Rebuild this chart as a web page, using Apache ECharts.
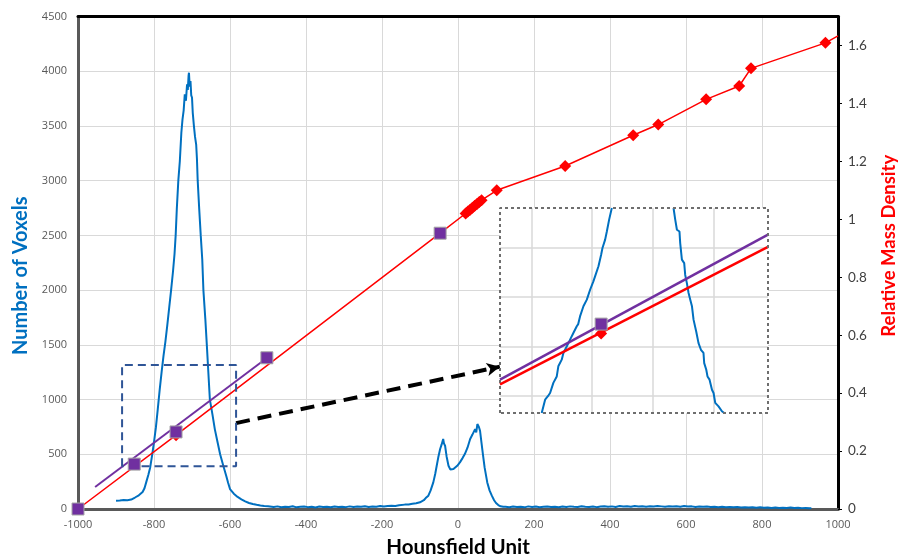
<!DOCTYPE html>
<html><head><meta charset="utf-8">
<script src="https://cdn.jsdelivr.net/npm/echarts@6/dist/echarts.min.js"></script>
<style>html,body{margin:0;padding:0;background:#fff}#c{width:909px;height:560px}</style>
</head><body><div id="c"></div>
<script>
// ---------- DATA ----------
// Histogram of voxel HU values (Number of Voxels)
const histHU = [
 -900,-895,-890,-885,-880,-875,-870,-865,-860,-855,-850,-845,-840,-835,-830,-825,-820,-815,-810,-805,
 -800,-795,-790,-785,-780,-775,-770,-765,-760,-755,-750,-746,-743,-740,-736,-732,-728,-725,-722,-719,
 -716,-713,-711,-709,-708,-706,-704,-702,-700,-698,-695,-692,-689,-687,-685,-681,-677,-673,-670,-665,
 -661,-657,-653,-646,-640,-633,-626,-618,-610,-605,-600,-590,-580,-570,-560,-550,-540,-530,-520,-510,
 -500,-495,-485,-475,-465,-455,-445,-435,-425,-415,-405,-395,-385,-375,-365,-355,-345,-335,-325,-315,
 -305,-295,-285,-275,-265,-255,-245,-235,-225,-215,-205,-195,-185,-175,-165,-155,-150,-140,-130,-120,
 -110,-100,-90,-85,-78,-72,-65,-60,-56,-52,-47,-43,-39,-37,-34,-30,-25,-20,-16,-12,
 -8,-2,5,12,18,25,32,38,45,48,51,55,58,62,66,70,77,83,89,95,
 100,106,112,119,125,135,145,155,165,175,185,195,205,215,225,235,245,255,265,275,
 285,295,305,315,325,335,345,355,365,375,385,395,405,415,425,435,445,455,465,475,
 485,495,505,515,525,535,545,555,565,575,585,595,605,615,625,635,645,655,665,675,
 685,695,705,715,725,735,745,755,765,775,785,795,805,815,825,835,845,855,865,875,
 885,895,905,915,925,930
];
const histCount = [
 75,85,78,90,82,88,80,92,86,100,105,118,125,140,155,190,250,310,380,490,
 610,745,915,1090,1250,1400,1530,1680,1840,2000,2170,2330,2500,2740,3000,3180,3440,3560,3640,3790,
 3730,3880,3830,3960,3986,3860,3910,3780,3760,3620,3500,3400,3330,3200,3000,2740,2500,2280,2000,1740,
 1500,1250,1000,860,730,615,500,400,304,240,182,140,110,88,70,55,45,38,32,27,
 25,22,18,24,16,21,19,25,15,20,23,17,21,14,22,18,20,16,23,19,
 21,17,24,18,22,20,26,19,23,21,28,22,27,30,28,34,35,40,42,48,
 52,61,80,100,122,170,243,320,395,470,548,590,640,600,578,480,395,360,350,365,
 380,395,426,465,502,560,639,680,730,700,776,750,715,600,487,380,243,170,122,80,
 55,36,25,21,20,16,22,18,21,15,24,19,22,17,20,23,18,21,16,22,
 19,24,20,18,25,21,19,23,17,22,26,20,24,19,27,22,25,20,28,23,
 26,21,25,22,27,24,21,26,23,25,20,27,22,24,19,23,20,22,18,21,
 17,20,16,19,15,18,14,17,13,16,12,15,11,14,10,13,9,12,10,13,
 9,11,8,10,7,8
];

// Relative mass density calibration (red diamonds), right axis
const densityHU    = [-1000, -742, -47, 20, 26, 32, 38, 44, 50, 56, 62, 102, 282, 461, 527, 653, 740, 771, 967, 1000];
const densityValue = [0, 0.255, 0.952, 1.02, 1.027, 1.033, 1.04, 1.047, 1.053, 1.06, 1.066, 1.10, 1.184, 1.290, 1.327, 1.414, 1.460, 1.521, 1.609, 1.633];

// Lung calibration points (purple squares), right axis
const lungHU    = [-1000, -852, -742, -503, -47];
const lungValue = [0, 0.155, 0.266, 0.522, 0.952];

// Linear fit through lung points (purple line), right axis
const fitHU    = [-955, -503];
const fitValue = [0.076, 0.521];

// Axis ticks
const huTicks = {min: -1000, max: 1000, step: 200};
const voxelTicks = {min: 0, max: 4500, step: 500};
const densityTicks = {min: 0, max: 1.7, step: 0.2};

// Zoom region (dashed box) in HU / voxels and the arrow pointing to the inset
const zoomHU = [-884, -584];
const zoomCount = [391, 1316];
const arrowHU = [-584, 110];
const arrowCount = [785, 1300];

// Inset (magnified view) — values read in the inset's own HU / voxel scale
const insetHURange = [-826, -605];
const insetCountRange = [330, 1160];
const insetGridHU = [-800, -750, -700, -650];
const insetGridCount = [400, 600, 800, 1000];
const insetRiseHU    = [-791.6,-788.8,-786.5,-784.7,-782,-779.2,-777.9,-775.1,-773.7,-772.6,-770.9,-768.2,-765.5,-762.7,-761.5,-760,-757.2,-754.4,-751.7,-749,-747.6,-744.8,-742.6,-741.5,-739.3,-737.9,-736,-733.8];
const insetRiseCount = [330,384,398,411,452,478,519,546,573,566,600,627,654,681,690,721,762,789,829,863,883,924,971,998,1032,1065,1113,1160];
const insetFallHU    = [-682.9,-681.5,-680.1,-678,-677.4,-676,-674.1,-673.3,-671.9,-670.5,-669.1,-667.7,-666.4,-664.2,-662.3,-660.3,-658.2,-657.6,-655.9,-654.9,-653.2,-651.2,-649.9,-648.5,-645.8,-643,-641.1];
const insetFallCount = [1160,1113,1072,1065,1018,951,937,890,856,816,789,762,708,660,613,586,573,532,505,478,465,424,411,371,357,337,330];
const insetFitHU = [-826, -605];
const insetFitCount = [465, 1052];
const insetDensityHU = [-826, -605];
const insetDensityCount = [446, 1003];
const insetLungHU = [-742.6];
const insetLungCount = [690];
const insetDiamondHU = [-742.6];
const insetDiamondCount = [652];

// ---------- CHART ----------
const pairs = (xs, ys) => xs.map((x, i) => [x, ys[i]]);
const blue = '#0070C0', red = '#FF0000', purple = '#7030A0';
const gridColor = '#D9D9D9', axisGrey = '#595959';
const tickFont = 'Open Sans';
const titleFont = 'Lato';
const plain = v => String(v);

const densityData = pairs(densityHU, densityValue).map((p, i) =>
  i === densityHU.length - 1 ? {value: p, symbol: 'none'} : p);

const zoomPoly = [[zoomHU[0], zoomCount[0]], [zoomHU[0], zoomCount[1]], [zoomHU[1], zoomCount[1]],
                  [zoomHU[1], zoomCount[0]], [zoomHU[0], zoomCount[0]]];
const insetPoly = [[insetHURange[0], insetCountRange[0]], [insetHURange[0], insetCountRange[1]],
                   [insetHURange[1], insetCountRange[1]], [insetHURange[1], insetCountRange[0]],
                   [insetHURange[0], insetCountRange[0]]];

const chart = echarts.init(document.getElementById('c'));
chart.setOption({
  animation: false,
  backgroundColor: '#fff',
  grid: [
    {left: 78, right: 71, top: 16.5, bottom: 51, containLabel: false, outerBoundsMode: 'none'},
    {left: 500, top: 208, width: 268, height: 205, containLabel: false, outerBoundsMode: 'none'}
  ],
  xAxis: [
    {gridIndex: 0, type: 'value', min: huTicks.min, max: huTicks.max, interval: huTicks.step,
     name: 'Hounsfield Unit', nameLocation: 'middle', nameGap: 28,
     nameTextStyle: {color: '#000', fontWeight: 'bold', fontSize: 20.5, fontFamily: titleFont},
     axisLine: {show: true, onZero: false, lineStyle: {color: axisGrey, width: 3}},
     axisTick: {show: false},
     axisLabel: {color: axisGrey, fontSize: 11, margin: 10, fontFamily: tickFont, formatter: plain},
     splitLine: {show: true, lineStyle: {color: gridColor, width: 1}}},
    {gridIndex: 0, type: 'value', position: 'top', min: huTicks.min, max: huTicks.max,
     axisLine: {show: true, onZero: false, lineStyle: {color: '#000', width: 3}},
     axisTick: {show: false}, axisLabel: {show: false}, splitLine: {show: false}},
    {gridIndex: 1, type: 'value', min: insetHURange[0], max: insetHURange[1], show: false}
  ],
  yAxis: [
    {gridIndex: 0, type: 'value', position: 'left', min: voxelTicks.min, max: voxelTicks.max, interval: voxelTicks.step,
     name: 'Number of Voxels', nameLocation: 'middle', nameRotate: 90, nameGap: 46,
     nameTextStyle: {color: blue, fontWeight: 'bold', fontSize: 20, fontFamily: titleFont, padding: [0, 26, 0, 0]},
     axisLine: {show: true, onZero: false, lineStyle: {color: axisGrey, width: 3}},
     axisTick: {show: false},
     axisLabel: {color: axisGrey, fontSize: 11, margin: 11, fontFamily: tickFont, formatter: plain},
     splitLine: {show: true, lineStyle: {color: gridColor, width: 1}}},
    {gridIndex: 0, type: 'value', position: 'right', min: densityTicks.min, max: densityTicks.max, interval: densityTicks.step,
     name: 'Relative Mass Density', nameLocation: 'middle', nameRotate: 90, nameGap: 42,
     nameTextStyle: {color: red, fontWeight: 'bold', fontSize: 18.5, fontFamily: titleFont, padding: [0, 0, 0, 34]},
     axisLine: {show: true, onZero: false, lineStyle: {color: '#000', width: 3}},
     axisTick: {show: true, length: 4, lineStyle: {color: '#000', width: 1}},
     axisLabel: {color: '#404040', fontSize: 13.5, margin: 10, fontFamily: titleFont, showMaxLabel: false},
     splitLine: {show: false}},
    {gridIndex: 1, type: 'value', min: insetCountRange[0], max: insetCountRange[1], show: false}
  ],
  series: [
    {name: 'Histogram', type: 'line', xAxisIndex: 0, yAxisIndex: 0, data: pairs(histHU, histCount),
     symbol: 'none', lineStyle: {color: blue, width: 2}, z: 2},
    {name: 'Density', type: 'line', xAxisIndex: 0, yAxisIndex: 1, data: densityData,
     symbol: 'diamond', symbolSize: 12, itemStyle: {color: red}, lineStyle: {color: red, width: 1.5}, z: 3},
    {name: 'Lung fit', type: 'line', xAxisIndex: 0, yAxisIndex: 1, data: pairs(fitHU, fitValue),
     symbol: 'none', lineStyle: {color: purple, width: 2}, z: 3},
    {name: 'Lung', type: 'scatter', xAxisIndex: 0, yAxisIndex: 1, data: pairs(lungHU, lungValue),
     symbol: 'rect', symbolSize: 12, itemStyle: {color: purple, borderColor: '#A6A6A6', borderWidth: 1, opacity: 1}, z: 4},
    {name: 'Zoom box', type: 'line', xAxisIndex: 0, yAxisIndex: 0, data: zoomPoly, symbol: 'none', clip: false,
     lineStyle: {color: '#2F5597', width: 2, type: [8, 5]}, z: 4, silent: true,
     markLine: {silent: true, z: 4, symbol: ['none', 'arrow'], symbolSize: [10, 13], label: {show: false},
       lineStyle: {color: '#000', width: 4, type: [14, 8]},
       data: [[{coord: [arrowHU[0], arrowCount[0]]}, {coord: [arrowHU[1], arrowCount[1]]}]]}},
    // inset
    {name: 'Inset frame', type: 'line', xAxisIndex: 2, yAxisIndex: 2, data: insetPoly, symbol: 'none', clip: false,
     lineStyle: {color: '#6E6E6E', width: 2, type: [3, 3]}, z: 6, silent: true,
     markArea: {silent: true, z: 1, itemStyle: {color: '#fff'},
       data: [[{coord: [insetHURange[0], insetCountRange[0]]}, {coord: [insetHURange[1], insetCountRange[1]]}]]},
     markLine: {silent: true, z: 2, symbol: ['none', 'none'], label: {show: false},
       lineStyle: {color: gridColor, width: 1.5, type: 'solid'},
       data: insetGridHU.map(v => ({xAxis: v})).concat(insetGridCount.map(v => ({yAxis: v})))}},
    {name: 'Inset rise', type: 'line', xAxisIndex: 2, yAxisIndex: 2, data: pairs(insetRiseHU, insetRiseCount),
     symbol: 'none', lineStyle: {color: blue, width: 2}, z: 5},
    {name: 'Inset fall', type: 'line', xAxisIndex: 2, yAxisIndex: 2, data: pairs(insetFallHU, insetFallCount),
     symbol: 'none', lineStyle: {color: blue, width: 2}, z: 5},
    {name: 'Inset density', type: 'line', xAxisIndex: 2, yAxisIndex: 2, data: pairs(insetDensityHU, insetDensityCount),
     symbol: 'none', lineStyle: {color: red, width: 2.5}, z: 5},
    {name: 'Inset fit', type: 'line', xAxisIndex: 2, yAxisIndex: 2, data: pairs(insetFitHU, insetFitCount),
     symbol: 'none', lineStyle: {color: purple, width: 2.5}, z: 5},
    {name: 'Inset diamond', type: 'scatter', xAxisIndex: 2, yAxisIndex: 2, data: pairs(insetDiamondHU, insetDiamondCount),
     symbol: 'diamond', symbolSize: 12, itemStyle: {color: red, opacity: 1}, z: 5},
    {name: 'Inset lung', type: 'scatter', xAxisIndex: 2, yAxisIndex: 2, data: pairs(insetLungHU, insetLungCount),
     symbol: 'rect', symbolSize: 12, itemStyle: {color: purple, borderColor: '#A6A6A6', borderWidth: 1, opacity: 1}, z: 5}
  ]
});
</script>
</body></html>
